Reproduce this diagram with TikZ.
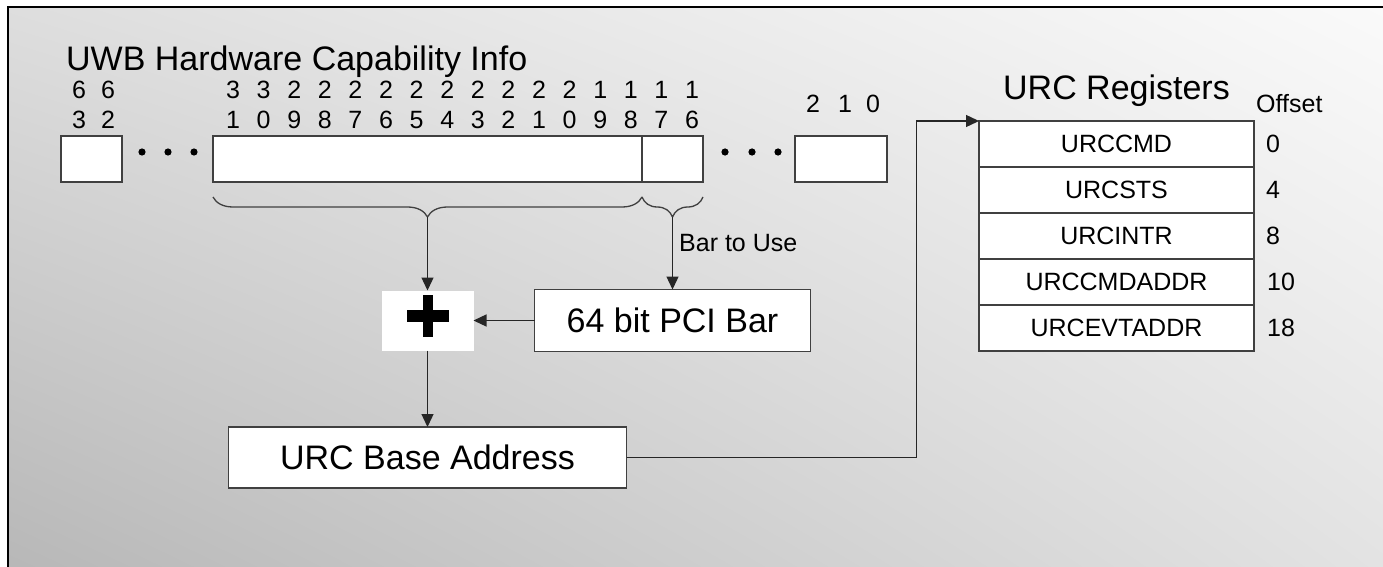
\documentclass[tikz,border=0pt]{standalone}
\usepackage{fontspec}
\setmainfont{Liberation Sans}
\usetikzlibrary{arrows.meta,positioning,decorations.pathreplacing,shadings}
\tikzset{
    %Define standard arrow tip
    >={Triangle[length=13pt,width=12pt]},
    wire/.style={
      draw=black!85, line width=1.3pt},
    field/.style={
      rectangle,
      draw=black!75, line width=1.3pt,
      fill=white,
      inner sep=0pt, outer sep=0pt},
    reg/.style={
      field,
      minimum width=275pt,
      minimum height=46pt,
      font=\fontsize{25}{30}\selectfont},
    bigtext/.style={
      font=\fontsize{34}{40}\selectfont},
    midtext/.style={
      inner sep=0pt,
      font=\fontsize{25}{30}\selectfont},
    bitnum/.style={
      inner sep=0pt,
      font=\fontsize{25}{30}\selectfont},
    curly/.style={
      draw=black!75, line width=1.3pt,
      decorate, decoration={brace, mirror, amplitude=20pt}},
}

\begin{document}
\begin{tikzpicture}[x=1pt, y=-1pt]
    \useasboundingbox (0,0) rectangle (1383,567);
    % background and frame
    \fill[white] (0,0) rectangle (1383,567);
    \shade[lower left=black!28, lower right=black!11,
           upper left=black!13, upper right=black!2]
          (8,7) rectangle (1383,567);
    \draw[line width=2.5pt] (8,567) -- (8,7) -- (1383,7);

    % capability register
    \node (hwtitle) [bigtext, anchor=base west, inner sep=0pt] at (66,71)
          {UWB Hardware Capability Info};
    \node (box63) [field, minimum width=61pt, minimum height=46pt] at (91.5,159) {};
    \node (boxhi) [field, minimum width=429pt, minimum height=46pt] at (427.5,159) {};
    \node (boxbar) [field, minimum width=61pt, minimum height=46pt] at (672.5,159) {};
    \node (box0) [field, minimum width=92pt, minimum height=46pt] at (841,159) {};
    \foreach \x in {142,168,194,725,752,778}
        \fill (\x,152) circle (3.6pt);

    % bit numbers
    \node (b63) [bitnum] at (79,90) {6};
    \node (b63l) [bitnum] at (79,120) {3};
    \node (b62) [bitnum] at (108,90) {6};
    \node (b62l) [bitnum] at (108,120) {2};
    \foreach \t/\o [count=\i from 0] in {3/1,3/0,2/9,2/8,2/7,2/6,2/5,2/4,
                                         2/3,2/2,2/1,2/0,1/9,1/8,1/7,1/6}{
        \node (hi\i) [bitnum] at (233+30.6*\i,90) {\t};
        \node (lo\i) [bitnum] at (233+30.6*\i,120) {\o};
    }
    \node (b2) [bitnum] at (813,104) {2};
    \node (b1) [bitnum] at (845,104) {1};
    \node (b0) [bitnum] at (873,104) {0};

    % braces
    \draw[curly] (213,197) -- (642,197);
    \draw[curly] (642,197) -- (703,197);
    \coordinate (bracehi) at (427.5,217);
    \coordinate (bracebar) at (672.5,217);

    % adder and bars
    \node (plus) [fill=white, minimum width=92pt, minimum height=60pt,
                  inner sep=0pt, outer sep=0pt] at (427.5,320.5) {};
    \fill (406.5,310) rectangle (448.5,322);
    \fill (422.5,295) rectangle (432.5,337);
    \node (pcibar) [field, bigtext, minimum width=276pt, minimum height=62pt]
          at (672.5,320.5) {64 bit PCI Bar};
    \node (baseaddr) [field, bigtext, minimum width=398pt, minimum height=61pt]
          at (427.5,457.5) {URC Base Address};
    \node (baruse) [midtext, anchor=west] at (679,243) {Bar to Use};

    \draw[wire,->] (bracehi) -- (plus);
    \draw[wire,->] (bracebar) -- (pcibar);
    \draw[wire,->] (pcibar) -- (plus);
    \draw[wire,->] (plus) -- (baseaddr);

    % URC registers
    \node (regtitle) [bigtext, anchor=base, inner sep=0pt] at (1116.5,100)
          {URC Registers};
    \node (offtitle) [midtext, anchor=base west] at (1256,113) {Offset};
    \node (urccmd) [reg] at (1116.5,144) {URCCMD};
    \node (urcsts) [reg, below=0pt of urccmd] {URCSTS};
    \node (urcintr) [reg, below=0pt of urcsts] {URCINTR};
    \node (urccmdaddr) [reg, below=0pt of urcintr] {URCCMDADDR};
    \node (urcevtaddr) [reg, below=0pt of urccmdaddr] {URCEVTADDR};
    \node (off0) [midtext, right=12pt of urccmd] {0};
    \node (off4) [midtext, right=12pt of urcsts] {4};
    \node (off8) [midtext, right=12pt of urcintr] {8};
    \node (off10) [midtext, right=13pt of urccmdaddr] {10};
    \node (off18) [midtext, right=13pt of urcevtaddr] {18};

    \draw[wire,->] (baseaddr.east) -- ++(290,0) |- (urccmd.north west);
\end{tikzpicture}
\end{document}
